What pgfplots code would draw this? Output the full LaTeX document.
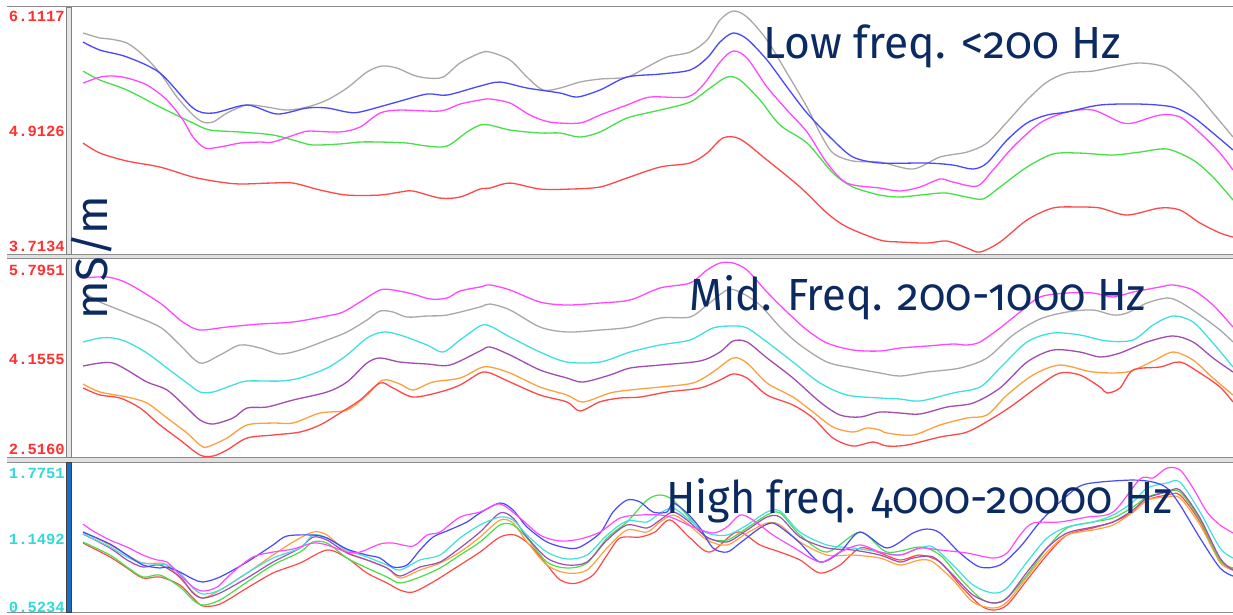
\documentclass[border=0pt]{standalone}
\usepackage{fontspec}
\usepackage{pgfplots}
\pgfplotsset{compat=1.18}
\setmainfont{Fira Sans}[Numbers=OldStyle]
\newfontfamily\tickfont{Liberation Mono}
\definecolor{navy}{HTML}{0C2A62}
\definecolor{cgray}{HTML}{A8A8A8}
\definecolor{cblue}{HTML}{4848FF}
\definecolor{cmag}{HTML}{FF48FF}
\definecolor{cgreen}{HTML}{48E048}
\definecolor{cred}{HTML}{FF4848}
\definecolor{ccyan}{HTML}{40E0E0}
\definecolor{cpurp}{HTML}{A04CB0}
\definecolor{corange}{HTML}{FFA040}
\definecolor{tickred}{HTML}{FF3030}
\definecolor{tickcyan}{HTML}{30DADA}
\definecolor{barblue}{HTML}{1C6EC4}
\pgfplotsset{panel/.style={scale only axis, width=1162pt, xmin=71, xmax=1233,
  anchor=north west, hide axis, clip=true,
  every axis plot/.append style={line width=1.3pt, smooth, tension=0.5, no markers}}}
\tikzset{tick/.style={anchor=east, inner sep=0pt, text=#1,
  font=\tickfont\bfseries\fontsize{15.5}{15.5}\selectfont}}
\begin{document}
\begin{tikzpicture}
\useasboundingbox (0,0) rectangle (1233pt,-614pt);
\fill[white] (0,0) rectangle (1233pt,-614pt);
% ---------------- Panel 1: Low frequency ----------------
\begin{axis}[panel, at={(71pt,-7pt)}, height=248pt, ymin=3.7134, ymax=6.1117]
\addplot[cgray] coordinates {(83,5.860)(100,5.812)(110,5.802)(127,5.763)(143,5.647)(160,5.473)(177,5.241)(193,5.067)(203,4.999)(213,4.999)(227,5.086)(247,5.164)(267,5.144)(287,5.115)(307,5.144)(327,5.212)(347,5.328)(367,5.483)(382,5.541)(397,5.521)(413,5.454)(427,5.425)(443,5.434)(460,5.570)(480,5.666)(490,5.676)(510,5.599)(527,5.434)(543,5.309)(560,5.328)(580,5.386)(600,5.415)(627,5.434)(647,5.531)(667,5.628)(690,5.676)(707,5.792)(720,5.986)(733,6.073)(747,6.015)(767,5.792)(787,5.473)(807,5.144)(820,4.893)(833,4.699)(853,4.622)(880,4.612)(913,4.545)(940,4.661)(967,4.709)(987,4.796)(1007,4.999)(1027,5.212)(1047,5.386)(1067,5.473)(1093,5.492)(1113,5.531)(1140,5.570)(1167,5.521)(1193,5.309)(1213,5.086)(1233,4.854)};
\addplot[cgreen] coordinates {(83,5.492)(100,5.405)(127,5.309)(160,5.144)(193,4.990)(210,4.922)(240,4.903)(273,4.874)(300,4.806)(313,4.777)(340,4.787)(360,4.806)(380,4.806)(407,4.796)(427,4.767)(447,4.767)(467,4.903)(480,4.970)(490,4.970)(510,4.922)(540,4.893)(560,4.893)(580,4.854)(600,4.903)(627,5.038)(660,5.115)(690,5.193)(710,5.328)(727,5.434)(740,5.405)(760,5.212)(780,4.970)(807,4.796)(833,4.506)(853,4.371)(880,4.293)(900,4.274)(920,4.293)(945,4.313)(967,4.274)(983,4.255)(1000,4.371)(1027,4.564)(1053,4.690)(1080,4.699)(1113,4.680)(1140,4.709)(1167,4.738)(1193,4.632)(1213,4.467)(1233,4.245)};
\addplot[cmag] coordinates {(83,5.376)(100,5.434)(113,5.444)(127,5.425)(147,5.357)(167,5.212)(183,5.019)(193,4.854)(205,4.748)(220,4.758)(240,4.796)(260,4.806)(273,4.806)(300,4.893)(310,4.912)(340,4.903)(360,4.951)(380,5.086)(400,5.115)(440,5.106)(460,5.173)(480,5.212)(490,5.222)(510,5.183)(530,5.067)(550,4.999)(580,4.990)(600,5.067)(627,5.164)(650,5.241)(687,5.241)(703,5.357)(720,5.579)(733,5.686)(747,5.618)(767,5.338)(787,5.115)(807,4.903)(827,4.603)(847,4.409)(880,4.361)(900,4.332)(920,4.371)(940,4.448)(953,4.419)(977,4.380)(993,4.535)(1013,4.757)(1040,4.990)(1067,5.096)(1093,5.115)(1120,4.999)(1133,4.990)(1160,5.067)(1180,5.048)(1200,4.893)(1220,4.699)(1233,4.535)};
\addplot[cblue] coordinates {(83,5.773)(100,5.695)(127,5.628)(160,5.473)(193,5.135)(213,5.086)(247,5.164)(277,5.077)(307,5.135)(327,5.135)(347,5.096)(360,5.096)(397,5.193)(427,5.270)(447,5.260)(480,5.347)(500,5.386)(527,5.328)(560,5.280)(577,5.241)(600,5.309)(627,5.434)(660,5.463)(690,5.502)(707,5.618)(720,5.773)(733,5.860)(747,5.802)(767,5.599)(787,5.338)(807,5.086)(833,4.825)(853,4.661)(880,4.603)(927,4.603)(953,4.583)(973,4.545)(987,4.603)(1007,4.825)(1027,4.990)(1047,5.067)(1067,5.096)(1100,5.164)(1140,5.173)(1173,5.144)(1193,5.048)(1213,4.893)(1233,4.729)};
\addplot[cred] coordinates {(83,4.796)(100,4.699)(127,4.622)(160,4.564)(193,4.467)(220,4.419)(240,4.400)(270,4.409)(293,4.409)(320,4.342)(347,4.293)(380,4.293)(400,4.322)(413,4.332)(440,4.264)(460,4.274)(480,4.351)(490,4.361)(510,4.409)(540,4.351)(570,4.351)(600,4.371)(627,4.458)(660,4.564)(690,4.603)(707,4.699)(723,4.845)(740,4.835)(767,4.632)(800,4.371)(827,4.119)(847,3.984)(880,3.858)(900,3.839)(927,3.829)(947,3.848)(967,3.781)(980,3.742)(1000,3.839)(1027,4.052)(1053,4.168)(1080,4.177)(1100,4.168)(1127,4.100)(1160,4.168)(1180,4.148)(1200,4.023)(1220,3.926)(1233,3.887)};
\end{axis}
% ---------------- Panel 2: Mid frequency ----------------
\begin{axis}[panel, at={(71pt,-258pt)}, height=201pt, ymin=2.5160, ymax=5.7951]
\addplot[cmag] coordinates {(83,5.469)(107,5.485)(127,5.387)(160,5.061)(180,4.784)(193,4.653)(203,4.620)(227,4.669)(260,4.718)(293,4.751)(327,4.849)(343,4.914)(360,5.077)(380,5.273)(393,5.273)(413,5.208)(430,5.126)(447,5.142)(460,5.257)(480,5.322)(490,5.355)(510,5.273)(540,5.077)(567,5.028)(600,5.061)(630,5.110)(660,5.306)(690,5.387)(707,5.599)(720,5.713)(733,5.713)(747,5.599)(767,5.240)(787,4.914)(807,4.620)(827,4.408)(853,4.294)(880,4.278)(900,4.327)(927,4.359)(953,4.392)(967,4.376)(980,4.425)(1000,4.653)(1020,4.914)(1040,5.159)(1067,5.224)(1093,5.224)(1113,5.159)(1133,5.240)(1160,5.322)(1173,5.355)(1193,5.273)(1213,5.028)(1233,4.669)};
\addplot[cgray] coordinates {(83,5.240)(100,5.077)(127,4.898)(160,4.669)(180,4.376)(200,4.082)(220,4.213)(240,4.376)(260,4.327)(280,4.229)(300,4.294)(327,4.457)(347,4.588)(367,4.784)(380,4.930)(393,4.914)(407,4.832)(427,4.849)(447,4.865)(480,4.996)(490,5.045)(510,4.947)(540,4.669)(567,4.588)(600,4.620)(630,4.669)(660,4.816)(690,4.832)(707,5.028)(727,5.273)(740,5.240)(760,5.028)(780,4.669)(800,4.376)(827,4.098)(853,4.000)(880,3.919)(900,3.870)(927,3.935)(960,4.000)(987,4.164)(1013,4.539)(1040,4.800)(1067,4.914)(1093,4.947)(1113,4.865)(1127,4.898)(1147,5.061)(1167,5.142)(1180,5.077)(1200,4.865)(1220,4.620)(1233,4.425)};
\addplot[ccyan] coordinates {(83,4.425)(100,4.490)(113,4.490)(127,4.425)(147,4.245)(167,4.000)(187,3.756)(200,3.609)(213,3.609)(233,3.723)(247,3.788)(280,3.788)(300,3.837)(327,4.000)(347,4.213)(367,4.490)(383,4.588)(400,4.539)(427,4.376)(443,4.261)(460,4.457)(480,4.686)(490,4.686)(510,4.506)(540,4.261)(567,4.098)(600,4.098)(630,4.261)(660,4.376)(690,4.457)(713,4.653)(733,4.686)(747,4.653)(767,4.425)(793,4.098)(820,3.756)(847,3.560)(880,3.511)(900,3.495)(920,3.462)(953,3.593)(980,3.690)(1000,4.000)(1027,4.425)(1053,4.571)(1080,4.539)(1107,4.441)(1133,4.457)(1153,4.702)(1173,4.849)(1193,4.751)(1213,4.408)(1233,4.017)};
\addplot[cpurp] coordinates {(83,4.033)(100,4.082)(113,4.082)(127,3.968)(147,3.772)(167,3.642)(187,3.348)(200,3.152)(213,3.087)(233,3.185)(247,3.348)(267,3.364)(293,3.478)(327,3.609)(347,3.772)(367,4.082)(380,4.164)(400,4.098)(427,4.066)(450,4.049)(480,4.278)(490,4.343)(510,4.213)(540,3.968)(567,3.837)(583,3.772)(610,3.886)(630,4.000)(660,4.049)(700,4.115)(720,4.261)(733,4.441)(747,4.425)(767,4.164)(793,3.837)(820,3.446)(840,3.234)(860,3.201)(880,3.283)(900,3.266)(920,3.250)(947,3.364)(973,3.429)(1000,3.674)(1027,4.098)(1053,4.294)(1080,4.261)(1100,4.180)(1120,4.245)(1147,4.425)(1173,4.523)(1193,4.425)(1213,4.164)(1233,3.935)};
\addplot[corange] coordinates {(83,3.739)(100,3.609)(127,3.527)(147,3.429)(167,3.185)(187,2.940)(200,2.744)(207,2.712)(227,2.858)(247,3.071)(273,3.103)(293,3.103)(320,3.266)(347,3.315)(367,3.560)(383,3.805)(400,3.739)(413,3.642)(433,3.772)(460,3.837)(480,4.000)(490,4.017)(510,3.919)(540,3.690)(567,3.560)(583,3.446)(610,3.593)(630,3.642)(660,3.690)(693,3.756)(713,3.935)(733,4.164)(747,4.082)(767,3.756)(793,3.527)(813,3.283)(833,3.038)(853,2.956)(867,3.022)(880,2.989)(887,2.940)(913,2.907)(940,3.071)(967,3.185)(987,3.234)(1007,3.560)(1033,3.886)(1060,4.049)(1093,3.935)(1127,3.935)(1153,4.115)(1173,4.261)(1193,4.131)(1213,3.837)(1233,3.560)};
\addplot[cred] coordinates {(83,3.674)(100,3.560)(120,3.511)(140,3.348)(160,3.071)(180,2.826)(200,2.581)(213,2.565)(227,2.663)(247,2.858)(273,2.907)(300,2.956)(320,3.071)(340,3.266)(360,3.478)(380,3.756)(393,3.674)(413,3.527)(440,3.609)(460,3.723)(480,3.919)(490,3.919)(510,3.772)(540,3.560)(567,3.446)(580,3.300)(600,3.450)(620,3.511)(640,3.527)(667,3.609)(700,3.674)(720,3.805)(733,3.903)(747,3.837)(767,3.560)(793,3.397)(813,3.185)(833,2.858)(853,2.728)(873,2.793)(887,2.728)(907,2.744)(940,2.875)(967,2.956)(993,3.185)(1013,3.397)(1040,3.723)(1060,3.919)(1080,3.886)(1100,3.690)(1107,3.593)(1120,3.674)(1133,3.968)(1160,4.017)(1180,4.098)(1200,3.919)(1220,3.690)(1233,3.446)};
\end{axis}
% ---------------- Panel 3: High frequency ----------------
\begin{axis}[panel, at={(71pt,-463pt)}, height=150pt, ymin=0.5234, ymax=1.7751,
  every axis plot/.append style={line width=1.2pt}]
\addplot[cred] coordinates {(83,1.107)(110,0.991)(127,0.899)(143,0.815)(160,0.824)(180,0.757)(193,0.648)(203,0.582)(220,0.598)(247,0.732)(273,0.857)(300,0.940)(327,1.049)(347,0.982)(367,0.857)(387,0.774)(400,0.715)(413,0.698)(433,0.782)(460,0.924)(480,1.032)(500,1.157)(515,1.174)(530,1.091)(547,0.924)(560,0.800)(575,0.770)(593,0.840)(607,1.007)(620,1.149)(640,1.157)(655,1.200)(670,1.300)(690,1.150)(710,1.032)(737,1.200)(760,1.091)(780,1.032)(800,0.966)(820,0.857)(840,0.924)(860,1.066)(880,1.024)(900,0.966)(920,1.007)(940,0.949)(960,0.757)(980,0.590)(993,0.548)(1007,0.590)(1027,0.799)(1047,1.007)(1067,1.174)(1093,1.233)(1113,1.283)(1133,1.366)(1147,1.466)(1167,1.508)(1180,1.508)(1200,1.283)(1220,0.949)(1233,0.899)};
\addplot[corange] coordinates {(83,1.199)(110,1.091)(127,1.007)(143,0.940)(160,0.940)(167,0.924)(180,0.815)(193,0.698)(203,0.648)(220,0.715)(247,0.857)(273,1.007)(293,1.116)(313,1.199)(327,1.174)(347,1.032)(367,0.966)(387,0.899)(400,0.815)(420,0.882)(440,0.940)(460,1.032)(480,1.157)(500,1.299)(513,1.274)(527,1.116)(547,0.924)(567,0.857)(587,0.882)(607,1.066)(627,1.216)(647,1.199)(660,1.283)(673,1.341)(687,1.274)(707,1.132)(727,1.091)(747,1.191)(767,1.274)(780,1.258)(800,1.116)(827,1.007)(853,1.007)(880,0.982)(900,0.924)(920,0.966)(933,0.949)(953,0.799)(973,0.615)(993,0.565)(1007,0.615)(1027,0.824)(1047,1.032)(1067,1.174)(1093,1.216)(1113,1.258)(1133,1.366)(1147,1.466)(1167,1.491)(1180,1.483)(1200,1.258)(1220,0.949)(1233,0.882)};
\addplot[cgreen] coordinates {(83,1.116)(110,1.007)(127,0.907)(143,0.824)(160,0.840)(180,0.740)(193,0.632)(203,0.590)(220,0.632)(247,0.782)(273,0.924)(300,1.032)(313,1.116)(327,1.107)(347,0.982)(367,0.899)(387,0.824)(400,0.774)(420,0.824)(440,0.899)(460,1.007)(480,1.116)(500,1.258)(513,1.258)(527,1.149)(547,0.949)(567,0.899)(587,0.940)(607,1.149)(627,1.283)(647,1.466)(660,1.508)(673,1.466)(693,1.283)(707,1.149)(727,1.132)(747,1.233)(767,1.341)(780,1.358)(800,1.174)(827,1.032)(860,1.199)(887,1.032)(920,1.074)(940,1.007)(960,0.815)(980,0.648)(993,0.607)(1007,0.648)(1027,0.840)(1047,1.066)(1067,1.233)(1093,1.283)(1113,1.316)(1133,1.408)(1147,1.491)(1167,1.533)(1180,1.533)(1200,1.299)(1220,0.966)(1233,0.899)};
\addplot[cpurp] coordinates {(83,1.183)(110,1.066)(127,0.966)(143,0.907)(160,0.924)(180,0.824)(193,0.690)(203,0.648)(220,0.690)(247,0.815)(273,0.949)(300,1.066)(313,1.157)(327,1.132)(347,1.024)(367,0.966)(387,0.899)(400,0.832)(420,0.907)(440,0.949)(460,1.066)(480,1.199)(500,1.358)(513,1.316)(527,1.157)(547,0.982)(567,0.924)(587,0.949)(607,1.132)(627,1.258)(647,1.233)(660,1.299)(673,1.366)(687,1.299)(707,1.157)(727,1.116)(747,1.216)(767,1.324)(780,1.324)(800,1.157)(827,1.066)(853,1.049)(880,1.007)(900,0.949)(913,0.982)(933,0.991)(953,0.840)(973,0.673)(993,0.607)(1007,0.648)(1027,0.865)(1047,1.066)(1067,1.191)(1093,1.241)(1113,1.283)(1133,1.383)(1147,1.483)(1167,1.533)(1180,1.550)(1200,1.316)(1220,0.982)(1233,0.882)};
\addplot[ccyan] coordinates {(83,1.183)(110,1.074)(127,0.991)(143,0.940)(167,0.924)(180,0.857)(193,0.732)(203,0.682)(220,0.715)(247,0.857)(273,0.982)(300,1.066)(313,1.174)(327,1.149)(347,1.049)(367,0.991)(387,0.924)(400,0.882)(420,0.966)(440,1.007)(460,1.149)(480,1.258)(500,1.324)(513,1.299)(527,1.174)(547,1.032)(567,0.974)(587,1.007)(607,1.174)(627,1.291)(647,1.283)(660,1.358)(673,1.399)(687,1.316)(707,1.191)(727,1.174)(747,1.258)(767,1.366)(780,1.374)(800,1.199)(827,1.091)(853,1.066)(880,1.032)(900,1.007)(920,1.066)(933,1.074)(953,0.924)(973,0.757)(993,0.690)(1007,0.732)(1027,0.949)(1047,1.149)(1067,1.241)(1093,1.283)(1113,1.341)(1133,1.450)(1147,1.566)(1167,1.608)(1180,1.616)(1200,1.366)(1220,1.066)(1233,0.982)};
\addplot[cblue] coordinates {(83,1.199)(110,1.099)(127,1.007)(143,0.924)(160,0.899)(167,0.907)(180,0.865)(193,0.807)(203,0.782)(220,0.824)(247,0.949)(273,1.091)(287,1.166)(313,1.174)(327,1.149)(347,1.057)(367,1.007)(380,0.982)(393,0.907)(407,0.924)(420,1.049)(433,1.157)(447,1.208)(467,1.283)(480,1.358)(500,1.441)(513,1.383)(527,1.241)(547,1.116)(567,1.066)(580,1.074)(600,1.191)(613,1.366)(627,1.466)(640,1.450)(653,1.366)(667,1.366)(673,1.441)(687,1.358)(700,1.233)(713,1.066)(727,1.032)(740,1.107)(760,1.233)(773,1.274)(787,1.199)(800,1.107)(820,0.949)(840,1.032)(860,1.199)(887,1.066)(913,1.191)(927,1.224)(940,1.191)(960,1.024)(980,0.907)(1000,0.924)(1020,1.074)(1040,1.283)(1060,1.450)(1080,1.583)(1100,1.616)(1133,1.633)(1153,1.616)(1167,1.566)(1180,1.425)(1200,1.149)(1220,0.899)(1233,0.832)};
\addplot[cmag] coordinates {(83,1.266)(93,1.208)(110,1.132)(127,1.074)(143,1.007)(157,0.966)(167,0.949)(180,0.840)(193,0.740)(203,0.707)(217,0.740)(233,0.865)(253,0.991)(273,1.032)(293,1.057)(313,1.107)(327,1.091)(347,1.032)(360,1.032)(380,1.099)(393,1.107)(413,1.082)(427,1.174)(440,1.199)(460,1.324)(480,1.366)(500,1.433)(520,1.316)(540,1.174)(560,1.124)(580,1.141)(600,1.199)(620,1.316)(640,1.341)(660,1.341)(673,1.316)(693,1.241)(713,1.191)(727,1.241)(740,1.341)(753,1.299)(773,1.174)(793,1.074)(820,0.949)(840,1.032)(860,1.091)(880,1.032)(900,1.007)(920,1.066)(940,1.049)(967,1.024)(993,0.982)(1007,1.024)(1020,1.174)(1033,1.274)(1060,1.283)(1087,1.324)(1113,1.366)(1140,1.641)(1153,1.650)(1167,1.733)(1180,1.717)(1193,1.566)(1207,1.366)(1220,1.258)(1233,1.191)};
\end{axis}
% ---------------- frames ----------------
\draw[black!45, line width=1.2pt] (7pt,-6.5pt) -- (1233pt,-6.5pt);
\fill[black!12] (7pt,-254.5pt) rectangle (1233pt,-258pt);
\draw[black!45, line width=0.9pt] (7pt,-254.5pt) -- (1233pt,-254.5pt);
\draw[black!45, line width=0.9pt] (7pt,-258pt) -- (1233pt,-258pt);
\fill[black!12] (7pt,-457.5pt) rectangle (1233pt,-462.5pt);
\draw[black!45, line width=0.9pt] (7pt,-457.5pt) -- (1233pt,-457.5pt);
\draw[black!45, line width=0.9pt] (7pt,-462.5pt) -- (1233pt,-462.5pt);
\draw[black!45, line width=1pt] (7pt,-612.5pt) -- (1233pt,-612.5pt);
\filldraw[fill=black!10, draw=black!50, line width=0.9pt] (66pt,-7pt) rectangle (71pt,-254.5pt);
\filldraw[fill=black!10, draw=black!50, line width=0.9pt] (66pt,-258pt) rectangle (71pt,-457.5pt);
\filldraw[fill=barblue, draw=black!75, line width=0.9pt] (66pt,-462.5pt) rectangle (71pt,-612.5pt);
% ---------------- value labels of the three scales ----------------
\node[tick=tickred] at (65pt,-16.7pt) {6.1117};
\node[tick=tickred] at (65pt,-131pt) {4.9126};
\node[tick=tickred] at (65pt,-246.7pt) {3.7134};
\node[tick=tickred] at (65pt,-270pt) {5.7951};
\node[tick=tickred] at (65pt,-359pt) {4.1555};
\node[tick=tickred] at (65pt,-449pt) {2.5160};
\node[tick=tickcyan] at (65pt,-473pt) {1.7751};
\node[tick=tickcyan] at (65pt,-539pt) {1.1492};
\node[tick=tickcyan] at (65pt,-607pt) {0.5234};
% ---------------- titles ----------------
\node[anchor=base west, inner sep=0pt, text=navy, font=\fontsize{45}{50}\selectfont] at (763pt,-58pt) {\scalebox{0.986}[1]{Low freq. <200 Hz}};
\node[anchor=base west, inner sep=0pt, text=navy, font=\fontsize{45}{50}\selectfont] at (689pt,-310pt) {\scalebox{0.966}[1]{Mid. Freq. 200-1000 Hz}};
\node[anchor=base west, inner sep=0pt, text=navy, font=\fontsize{45}{50}\selectfont] at (666pt,-513pt) {\scalebox{0.958}[1]{High freq. 4000-20000 Hz}};
\node[rotate=90, inner sep=0pt, text=navy, font=\fontsize{45}{50}\selectfont] at (92pt,-258pt) {mS/m};
\end{tikzpicture}
\end{document}
